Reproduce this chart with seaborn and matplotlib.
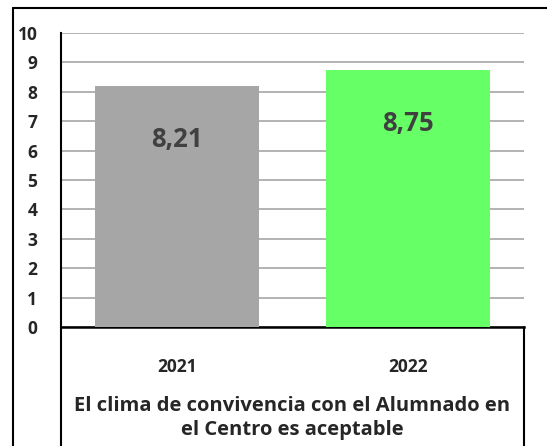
import matplotlib
matplotlib.use("Agg")
import matplotlib.pyplot as plt
from matplotlib.lines import Line2D
import seaborn as sns
import pandas as pd

years = ["2021", "2022"]
scores = [8.21, 8.75]
bar_colors = ["#A6A6A6", "#66FF66"]
value_labels = ["8,21", "8,75"]
yticks = list(range(0, 11))
title = "El clima de convivencia con el Alumnado en\nel Centro es aceptable"

sns.set_theme(style="white")
plt.rcParams["font.family"] = ["Open Sans", "DejaVu Sans"]
plt.rcParams["font.weight"] = "bold"

df = pd.DataFrame({"year": years, "score": scores})

fig = plt.figure(figsize=(5.47, 4.46), dpi=100)
ax = fig.add_axes([61 / 547, 1 - 327 / 446, 463 / 547, 294 / 446])

sns.barplot(data=df, x="year", y="score", hue="year", palette=bar_colors,
            width=0.71, saturation=1, legend=False, ax=ax, zorder=3,
            linewidth=0)

ax.set_ylim(0, 10)
ax.set_xlim(-0.5, 1.5)
ax.set_yticks(yticks)
ax.set_yticklabels([str(t) for t in yticks], fontsize=12.5, fontweight="bold")
ax.yaxis.grid(True, color="#A6A6A6", linewidth=1.2, zorder=0)
ax.set_axisbelow(True)
ax.tick_params(axis="y", length=0, pad=17)
ax.tick_params(axis="x", length=0, pad=22)
ax.set_xticks(range(len(years)))
ax.set_xticklabels(years, fontsize=12.5, fontweight="bold")
ax.set_ylabel("")
ax.set_xlabel(title, fontsize=14.5, fontweight="bold", labelpad=15, linespacing=1.25)

for s in ["top", "right"]:
    ax.spines[s].set_visible(False)
ax.spines["left"].set_color("black")
ax.spines["left"].set_linewidth(1.5)
ax.spines["bottom"].set_color("black")
ax.spines["bottom"].set_linewidth(1.8)

for i, (v, lab) in enumerate(zip(scores, value_labels)):
    ax.annotate(lab, (i, v), xytext=(0, -39), textcoords="offset points",
                ha="center", va="center", fontsize=18.5, fontweight="bold",
                color="#404040", zorder=5)

# category box lines below the plot area and outer frame
W, H = 547, 446
fig.add_artist(Line2D([61 / W, 61 / W], [0, 1 - 327 / H], color="black", lw=1.5))
fig.add_artist(Line2D([524 / W, 524 / W], [0, 1 - 327 / H], color="black", lw=1.5))
fig.add_artist(Line2D([12.5 / W, 12.5 / W], [0, 1 - 8 / H], color="black", lw=1.5))
fig.add_artist(Line2D([12.5 / W, 1], [1 - 8 / H, 1 - 8 / H], color="black", lw=1.5))

fig.savefig("out.png", dpi=100)
